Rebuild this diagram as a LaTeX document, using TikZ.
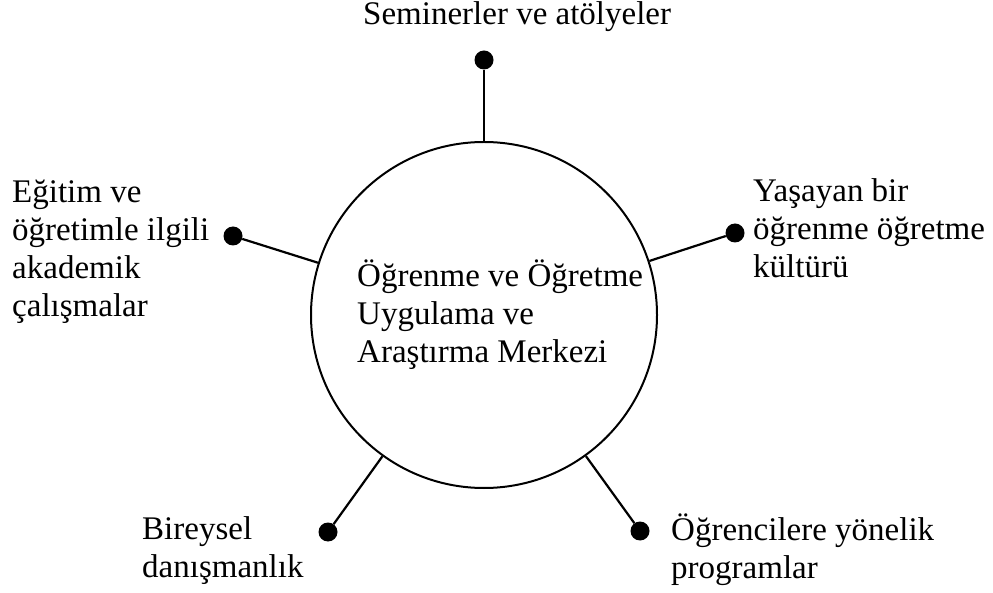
\documentclass[tikz,border=0pt]{standalone}
\usepackage{fontspec}
\setmainfont{Liberation Serif}
\tikzset{
  yazi/.style={font=\fontsize{33}{38}\selectfont, align=left, inner sep=0pt, anchor=base west},
  nokta/.style={circle, fill=black, inner sep=0pt, minimum size=19pt},
  kol/.style={line width=2.2pt},
}
\begin{document}
\begin{tikzpicture}[x=1pt,y=1pt]
\useasboundingbox (0,0) rectangle (993,592);
% merkez daire
\node[draw, circle, line width=2pt, minimum size=346pt, inner sep=0pt] (merkez) at (484,277) {};
\node[yazi] (merkezyazi) at (357,229) {Öğrenme ve Öğretme\\Uygulama ve\\Araştırma Merkezi};
% kollar
\node[nokta] (ust) at (484,532) {};
\node[nokta] (sag) at (735,359) {};
\node[nokta] (sol) at (233,356) {};
\node[nokta] (altsol) at (328,60) {};
\node[nokta] (altsag) at (640,61) {};
\draw[kol] (merkez)--(ust);
\draw[kol] (merkez)--(sag);
\draw[kol] (merkez)--(sol);
\draw[kol] (merkez)--(altsol);
\draw[kol] (merkez)--(altsag);
% yazilar
\node[yazi] (seminer) at (363,567) {Seminerler ve atölyeler};
\node[yazi] (kultur) at (753,314) {Yaşayan bir\\öğrenme öğretme\\kültürü};
\node[yazi] (akademik) at (12,275) {Eğitim ve\\öğretimle ilgili\\akademik\\çalışmalar};
\node[yazi] (danisman) at (142,15) {Bireysel\\danışmanlık};
\node[yazi] (program) at (671,14) {Öğrencilere yönelik\\programlar};
\end{tikzpicture}
\end{document}
